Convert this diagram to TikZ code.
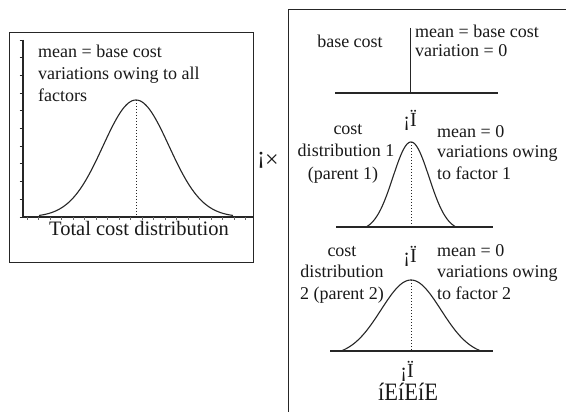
\documentclass[tikz,border=0pt]{standalone}
\usepackage{fontspec}
\setmainfont{Liberation Serif}
\tikzset{
  txt/.style={inner sep=0pt, text=black!90, font=\fontsize{18}{21}\selectfont},
  bigtxt/.style={inner sep=0pt, text=black!90, font=\fontsize{20.5}{24}\selectfont},
  symtxt/.style={inner sep=0pt, text=black!90, font=\fontsize{20}{24}\selectfont},
  frame/.style={draw=black!85, line width=0.9pt},
  axis/.style={draw=black!85, line width=1.5pt},
  bell/.style={draw=black!85, line width=1.1pt},
  meanline/.style={draw=black!85, line width=1pt, dotted},
}
\begin{document}
\begin{tikzpicture}[x=1pt,y=-1pt]
\useasboundingbox (0,0) rectangle (566,412);
\fill[white] (0,0) rectangle (566,412);

% ---------- left panel ----------
\draw[frame] (9,32) rectangle (253,262);
\draw[axis] (23,40) -- (23,217) -- (253,217);
\foreach \k in {0,...,10} \draw[black!85, line width=0.8pt] (19.5,{40+17.7*\k}) -- (23,{40+17.7*\k});
\foreach \k in {0,...,19} \draw[black!60, line width=0.6pt] ({27+11.5*\k},217) -- ({27+11.5*\k},219.5);
\draw[bell] plot[domain=-97:97, samples=101, smooth] ({136+\x},{217-117*exp(-(\x*\x)/(2*33*33))});
\draw[meanline] (136,100) -- (136,217);
\node[txt, anchor=base west] (l1) at (38,57.5) {mean = base cost};
\node[txt, anchor=base west] (l2) at (38,79.5) {variations owing to all};
\node[txt, anchor=base west] (l3) at (38,101.5) {factors};
\node[bigtxt, anchor=base] (ltot) at (139,236) {Total cost distribution};

\node[inner sep=0pt, text=black!90, font=\fontsize{24}{28}\selectfont, anchor=base] (times) at (268,164) {¡\raisebox{-3.5pt}{×}};

% ---------- right panel ----------
\draw[frame] (566,9) -- (288,9) -- (288,412);

% base cost
\draw[frame] (410,28) -- (410,93);
\draw[axis] (335,93) -- (498,93);
\node[txt, anchor=base] (bc) at (350,47.5) {base cost};
\node[txt, anchor=base west] (bc1) at (415,37.5) {mean = base cost};
\node[txt, anchor=base west] (bc2) at (415,57) {variation = 0};

\node[symtxt, anchor=base] (p1) at (410,127) {¡Ï};

% distribution 1
\draw[axis] (336,227) -- (493,227);
\draw[bell] plot[domain=-45:45, samples=81, smooth] ({411+\x},{227-85*(exp(-(\x*\x)/(2*18*18))-0.044)/(1-0.044)});
\draw[meanline] (411,142) -- (411,227);
\node[txt, anchor=base] (c1a) at (348,135) {cost};
\node[txt, anchor=base] (c1b) at (346,157) {distribution 1};
\node[txt, anchor=base] (c1c) at (343,179) {(parent 1)};
\node[txt, anchor=base west] (m1a) at (437,138) {mean = 0};
\node[txt, anchor=base west] (m1b) at (437,157.5) {variations owing};
\node[txt, anchor=base west] (m1c) at (437,179.5) {to factor 1};

\node[symtxt, anchor=base] (p2) at (410,262) {¡Ï};

% distribution 2
\draw[axis] (330,351) -- (493,351);
\draw[bell] plot[domain=-70:70, samples=101, smooth] ({411+\x},{351-71*(exp(-(\x*\x)/(2*30*30))-0.066)/(1-0.066)});
\draw[meanline] (411,280) -- (411,351);
\node[txt, anchor=base] (c2a) at (342,256) {cost};
\node[txt, anchor=base] (c2b) at (342,277.5) {distribution};
\node[txt, anchor=base] (c2c) at (342,299) {2 (parent 2)};
\node[txt, anchor=base west] (m2a) at (437,256.5) {mean = 0};
\node[txt, anchor=base west] (m2b) at (437,277.5) {variations owing};
\node[txt, anchor=base west] (m2c) at (437,299) {to factor 2};

\node[symtxt, anchor=base] (p3) at (407,377) {¡Ï};
\node[inner sep=0pt, text=black!90, font=\fontsize{25}{28}\selectfont, anchor=base, xscale=0.9] (dots) at (408,400) {íEíEíE};
\end{tikzpicture}
\end{document}
